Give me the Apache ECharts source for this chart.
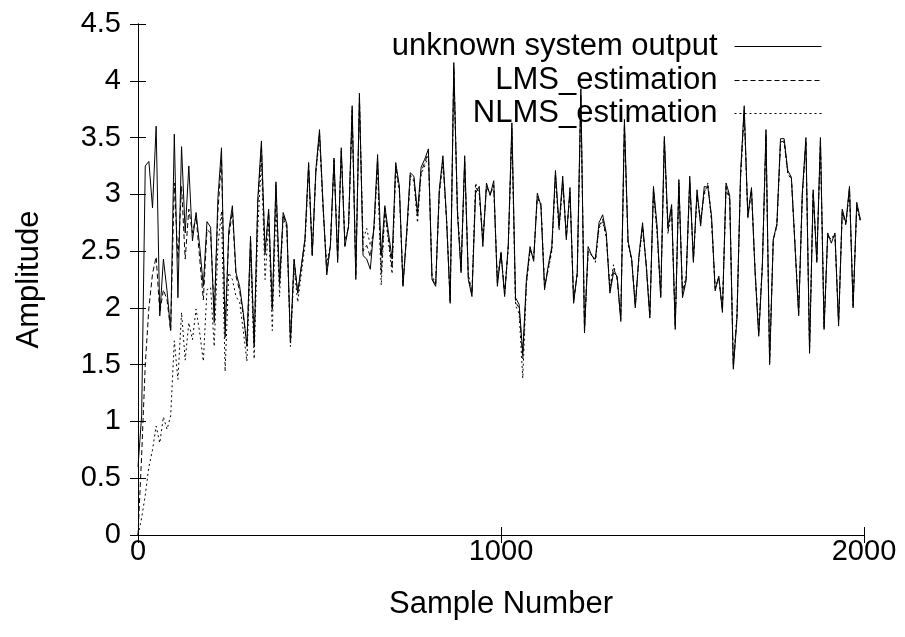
<!DOCTYPE html>
<html>
<head>
<meta charset="utf-8">
<script src="https://cdn.jsdelivr.net/npm/echarts@6/dist/echarts.min.js"></script>
<style>
html,body{margin:0;padding:0;background:#fff;}
#chart{width:905px;height:637px;}
</style>
</head>
<body>
<div id="chart"></div>
<script>
// sample spacing (samples per plotted point)
const sampleStep = 10;

const seriesNames = ['unknown system output', 'LMS_estimation', 'NLMS_estimation'];

const systemOutput = [
0.6,1.05,3.25,3.29,2.88,3.60,1.93,2.43,2.15,1.80,
3.53,2.09,3.42,2.66,3.25,2.59,2.84,2.54,2.19,2.76,
2.71,1.87,2.96,3.41,1.74,2.68,2.90,2.31,2.19,1.96,
1.66,2.63,1.66,2.96,3.47,2.49,2.87,1.99,3.11,2.22,
2.84,2.74,1.69,2.43,2.13,2.37,2.61,3.28,2.46,3.22,
3.57,2.90,2.29,2.55,3.32,2.40,3.41,2.54,2.72,3.78,
2.25,3.89,2.46,2.43,2.34,2.72,3.35,2.46,2.90,2.66,
2.43,3.28,3.07,2.19,2.66,3.19,3.16,2.84,3.24,3.31,
3.40,2.25,2.19,3.04,3.34,2.78,2.04,4.16,2.84,2.31,
3.34,2.25,2.10,3.01,3.07,2.54,3.10,2.99,3.12,2.19,
2.49,2.10,2.55,3.63,2.09,2.03,1.60,2.25,2.54,2.41,
3.01,2.90,2.16,2.37,2.54,3.21,2.72,3.16,2.60,3.06,
2.04,2.31,3.93,1.78,2.54,2.46,2.43,2.75,2.82,2.66,
2.13,2.31,2.28,1.88,3.66,2.59,2.43,2.00,2.46,2.75,
2.37,1.91,3.07,2.72,2.09,3.51,2.72,2.91,1.81,3.13,
2.09,2.24,3.16,2.40,3.04,2.72,3.07,3.06,2.81,2.15,
2.28,1.96,3.10,2.99,1.46,1.90,3.19,3.78,2.81,3.06,
2.31,1.75,2.37,3.57,1.50,2.60,2.74,3.49,3.49,3.21,
3.15,2.54,1.93,3.01,3.50,1.60,3.04,2.40,3.50,1.81,
2.66,2.57,2.66,1.84,2.87,2.75,3.07,2.00,2.93,2.78
];

const lmsEstimation = [
0.0,0.7,1.5,2.0,2.3,2.45,1.96,2.16,2.07,1.80,
3.10,2.43,3.07,2.43,2.87,2.66,2.81,2.43,2.07,2.69,
2.66,1.96,2.84,3.31,1.84,2.62,2.85,2.28,2.15,1.93,
1.68,2.60,1.70,2.92,3.42,2.47,2.84,1.98,3.08,2.20,
2.82,2.72,1.70,2.42,2.13,2.36,2.60,3.26,2.46,3.20,
3.54,2.88,2.32,2.55,3.30,2.42,3.38,2.55,2.72,3.74,
2.28,3.85,2.50,2.55,2.45,2.70,3.30,2.30,2.88,2.62,
2.35,3.25,3.05,2.20,2.64,3.17,3.14,2.80,3.20,3.28,
3.37,2.26,2.20,3.02,3.31,2.77,2.06,4.12,2.85,2.33,
3.30,2.27,2.12,3.06,3.02,2.58,3.07,3.00,3.08,2.22,
2.48,2.12,2.55,3.58,2.05,2.00,1.55,2.22,2.52,2.43,
2.98,2.90,2.18,2.35,2.52,3.18,2.70,3.12,2.62,3.02,
2.06,2.30,3.88,1.80,2.50,2.46,2.42,2.72,2.78,2.64,
2.15,2.35,2.26,1.90,3.62,2.58,2.42,2.02,2.45,2.72,
2.38,1.93,3.04,2.68,2.10,3.48,2.68,2.88,1.84,3.10,
2.12,2.26,3.12,2.42,3.00,2.75,3.02,3.08,2.78,2.17,
2.27,1.98,3.07,2.97,1.48,1.92,3.16,3.74,2.80,3.04,
2.32,1.77,2.38,3.53,1.52,2.60,2.73,3.46,3.47,3.19,
3.14,2.55,1.95,2.99,3.47,1.63,3.02,2.42,3.47,1.83,
2.64,2.60,2.64,1.86,2.85,2.74,3.05,2.02,2.90,2.77
];

const nlmsEstimation = [
0.0,0.15,0.35,0.6,0.75,0.96,0.81,1.04,0.93,1.05,
1.71,1.37,1.96,1.54,1.87,1.72,1.99,1.78,1.53,2.16,
2.18,1.66,2.54,2.85,1.44,2.31,2.25,2.10,2.05,1.80,
1.53,2.50,1.55,2.70,3.30,2.25,2.75,1.80,2.90,2.10,
2.80,2.70,1.66,2.35,2.05,2.30,2.55,3.22,2.50,3.18,
3.52,2.85,2.40,2.55,3.28,2.50,3.35,2.60,2.70,3.70,
2.35,3.80,2.60,2.70,2.55,2.68,3.25,2.20,2.85,2.58,
2.30,3.22,3.02,2.22,2.62,3.14,3.12,2.75,3.18,3.25,
3.34,2.28,2.22,3.00,3.28,2.80,2.08,4.08,2.88,2.36,
3.26,2.30,2.14,3.10,3.00,2.62,3.05,3.02,3.05,2.25,
2.47,2.14,2.52,3.54,2.02,1.95,1.38,2.20,2.50,2.45,
2.96,2.92,2.20,2.33,2.50,3.15,2.68,3.10,2.65,3.00,
2.08,2.28,3.84,1.82,2.48,2.47,2.40,2.70,2.76,2.62,
2.18,2.38,2.25,1.92,3.58,2.56,2.42,2.04,2.44,2.70,
2.40,1.95,3.02,2.65,2.12,3.46,2.65,2.86,1.86,3.08,
2.14,2.28,3.10,2.44,2.98,2.78,3.00,3.10,2.76,2.18,
2.26,2.00,3.05,2.95,1.50,1.94,3.14,3.72,2.79,3.03,
2.33,1.79,2.39,3.50,1.54,2.60,2.72,3.44,3.46,3.18,
3.13,2.56,1.97,2.98,3.45,1.65,3.00,2.44,3.45,1.85,
2.62,2.63,2.62,1.88,2.83,2.73,3.03,2.04,2.88,2.76
];

const xTicks = [0, 1000, 2000];
const yTicks = [0, 0.5, 1, 1.5, 2, 2.5, 3, 3.5, 4, 4.5];

function pairs(arr){ return arr.map((v,i)=>[i*sampleStep, v]); }

const FONT = 'Liberation Sans, Arial, Helvetica, sans-serif';
const FS = 31;      // legend and axis titles
const FS_TICK = 29; // tick labels
const lineTypes = ['solid', [5,3], [2,3]];
const allData = [systemOutput, lmsEstimation, nlmsEstimation];

const axisLine = {show:true, lineStyle:{color:'#000', width:1}};
const tick = {show:true, inside:true, length:8, lineStyle:{color:'#000', width:1}};

const chart = echarts.init(document.getElementById('chart'), null, {renderer:'canvas'});
const legendTops = [31, 65, 98];
chart.setOption({
  backgroundColor:'#fff',
  animation:false,
  textStyle:{fontFamily:FONT},
  grid:{left:138, right:41, top:24, bottom:102},
  legend: seriesNames.map((n,i)=>({
    data:[{name:n}], right:83, top:legendTops[i], orient:'vertical', align:'right',
    itemWidth:87, itemHeight:14, padding:0,
    itemStyle:{opacity:0, color:'rgba(0,0,0,0)', borderColor:'rgba(0,0,0,0)', borderWidth:0},
    lineStyle:{width:1, color:'#000', type:lineTypes[i]},
    textStyle:{fontFamily:FONT, fontSize:FS, color:'#000', padding:[0,12,0,0]},
    selectedMode:false
  })),
  xAxis:[{
    type:'value', min:xTicks[0], max:xTicks[xTicks.length-1], interval:1000, position:'bottom',
    name:'Sample Number', nameLocation:'middle', nameGap:54,
    nameTextStyle:{fontFamily:FONT, fontSize:FS, color:'#000'},
    axisLine:axisLine, axisTick:tick, splitLine:{show:false},
    axisLabel:{fontFamily:FONT, fontSize:FS_TICK, color:'#000', margin:2, formatter:(v)=>String(v)}
  },{
    type:'value', min:xTicks[0], max:xTicks[xTicks.length-1], interval:1000, position:'top',
    axisLine:axisLine, axisTick:tick, splitLine:{show:false}, axisLabel:{show:false}
  }],
  yAxis:[{
    type:'value', min:yTicks[0], max:yTicks[yTicks.length-1], interval:0.5, position:'left',
    name:'Amplitude', nameLocation:'middle', nameGap:93, nameRotate:90,
    nameTextStyle:{fontFamily:FONT, fontSize:FS, color:'#000'},
    axisLine:axisLine, axisTick:tick, splitLine:{show:false},
    axisLabel:{fontFamily:FONT, fontSize:FS_TICK, color:'#000', margin:17}
  },{
    type:'value', min:yTicks[0], max:yTicks[yTicks.length-1], interval:0.5, position:'right',
    axisLine:axisLine, axisTick:tick, splitLine:{show:false}, axisLabel:{show:false}
  }],
  series: seriesNames.map((n,i)=>({
    name:n, type:'line', data:pairs(allData[i]), xAxisIndex:0, yAxisIndex:0,
    symbol:'none', showSymbol:false,
    lineStyle:{color:'#000', width:1, type:lineTypes[i]},
    itemStyle:{color:'#000'},
    z: 3 - i
  }))
});
</script>
</body>
</html>
